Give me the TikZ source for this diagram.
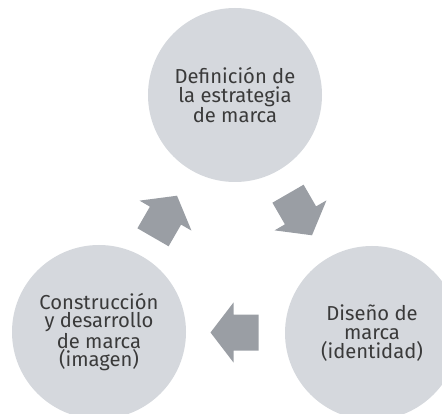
\documentclass[tikz,border=0pt]{standalone}
\usepackage{fontspec}
\setmainfont{Fira Sans}
\definecolor{circ}{RGB}{213,216,221}
\definecolor{arr}{RGB}{154,158,164}
\definecolor{txt}{RGB}{58,58,58}
\tikzset{
  stage/.style={circle, fill=circ, minimum size=174pt, inner sep=0pt,
    text=txt, align=center, font=\fontsize{20.2}{18.6}\selectfont},
  blockarrow/.style={fill=arr}
}
\newcommand\blockarr[2]{%
  \fill[blockarrow, shift={#1}, rotate=#2]
    (-24,-18) -- (1,-18) -- (1,-30) -- (24,0) -- (1,30) -- (1,18) -- (-24,18) -- cycle;}
\begin{document}
\begin{tikzpicture}[x=1pt,y=-1pt]
\useasboundingbox (0,0) rectangle (442,414);
\clip (0,0) rectangle (442,414);
\node[stage] (def) at (235,95) {Definición de\\la estrategia\\de marca};
\node[stage] (dis) at (372,333) {Diseño de\\marca\\(identidad)};
\node[stage] (con) at (99,332) {Construcción\\y desarrollo\\de marca\\(imagen)};
\blockarr{(300,214.5)}{-60}
\blockarr{(234.5,332.5)}{180}
\blockarr{(165,216.5)}{60}
\end{tikzpicture}
\end{document}
